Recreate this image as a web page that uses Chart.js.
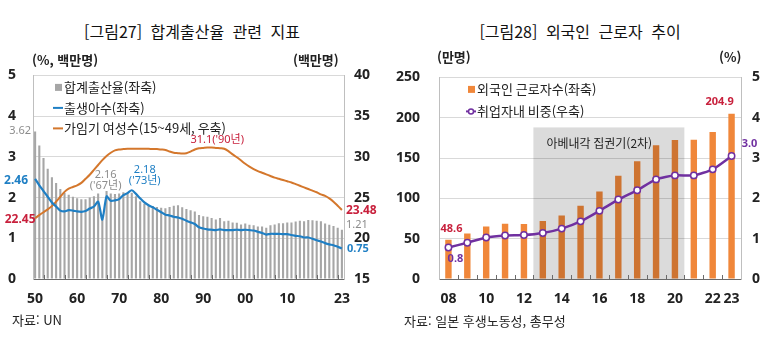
<!DOCTYPE html>
<html lang="ko">
<head>
<meta charset="utf-8">
<script src="https://cdn.jsdelivr.net/npm/chart.js@4.4.1/dist/chart.umd.min.js"></script>
<style>
  body { margin: 0; width: 768px; height: 354px; background: #fff; position: relative; overflow: hidden;
         font-family: "Noto Sans CJK KR", "Noto Sans", sans-serif; color: #222; }
  canvas { position: absolute; top: 50px; }
  .t { position: absolute; white-space: nowrap; }
  .title { top: 21px; font-size: 16px; line-height: 20px; color: #111; text-align: center; word-spacing: 4px; }
  .unit { top: 51px; font-size: 13px; line-height: 18px; font-weight: bold; color: #222; }
  .src { font-size: 13px; line-height: 18px; color: #222; }
</style>
</head>
<body>
<canvas id="fertility" width="384" height="265" style="left:0"></canvas>
<canvas id="workers" width="384" height="265" style="left:384px"></canvas>

<div class="t title" style="left:0;width:384px">[그림27] 합계출산율 관련 지표</div>
<div class="t title" style="left:396px;width:368px">[그림28] 외국인 근로자 추이</div>
<div class="t unit" style="left:32px">(%, 백만명)</div>
<div class="t unit" style="left:293px">(백만명)</div>
<div class="t unit" style="left:437px;top:48px">(만명)</div>
<div class="t unit" style="left:719px;top:48px">(%)</div>
<div class="t src" style="left:12px;top:311px">자료: UN</div>
<div class="t src" style="left:404px;top:312px">자료: 일본 후생노동성, 총무성</div>

<script>
// ---- 그림27 data (1950~2023) ----
const years1 = [
  '1950','1951','1952','1953','1954','1955','1956','1957','1958','1959',
  '1960','1961','1962','1963','1964','1965','1966','1967','1968','1969',
  '1970','1971','1972','1973','1974','1975','1976','1977','1978','1979',
  '1980','1981','1982','1983','1984','1985','1986','1987','1988','1989',
  '1990','1991','1992','1993','1994','1995','1996','1997','1998','1999',
  '2000','2001','2002','2003','2004','2005','2006','2007','2008','2009',
  '2010','2011','2012','2013','2014','2015','2016','2017','2018','2019',
  '2020','2021','2022','2023'
];
const shownYears1 = ['1950','1960','1970','1980','1990','2000','2010','2023'];

// 합계출산율 (%)
const tfr = [
  3.62, 3.28, 2.97, 2.71, 2.50, 2.36, 2.21, 2.11, 2.07, 2.02,
  1.98, 1.96, 1.96, 2.00, 2.03, 2.10, 1.58, 2.16, 2.10, 2.09,
  2.10, 2.13, 2.12, 2.12, 2.03, 1.91, 1.85, 1.80, 1.79, 1.77,
  1.75, 1.74, 1.77, 1.80, 1.81, 1.76, 1.72, 1.69, 1.66, 1.57,
  1.54, 1.53, 1.50, 1.46, 1.50, 1.42, 1.43, 1.39, 1.38, 1.34,
  1.36, 1.33, 1.32, 1.29, 1.29, 1.26, 1.32, 1.34, 1.37, 1.37,
  1.39, 1.39, 1.41, 1.43, 1.42, 1.45, 1.44, 1.43, 1.42, 1.36,
  1.33, 1.30, 1.26, 1.21
];
// 출생아수 (백만명)
const births = [
  2.46, 2.30, 2.16, 2.02, 1.88, 1.78, 1.68, 1.66, 1.69, 1.68,
  1.66, 1.65, 1.67, 1.73, 1.78, 1.90, 1.46, 2.03, 1.92, 1.93,
  1.96, 2.06, 2.11, 2.18, 2.09, 1.98, 1.88, 1.81, 1.76, 1.70,
  1.64, 1.58, 1.56, 1.53, 1.51, 1.48, 1.43, 1.39, 1.35, 1.27,
  1.24, 1.22, 1.21, 1.20, 1.22, 1.20, 1.20, 1.20, 1.21, 1.20,
  1.21, 1.20, 1.19, 1.16, 1.13, 1.09, 1.11, 1.11, 1.11, 1.10,
  1.10, 1.08, 1.06, 1.05, 1.02, 1.02, 0.99, 0.95, 0.92, 0.88,
  0.85, 0.83, 0.79, 0.75
];
// 가임기 여성수 15~49세 (백만명)
const women = [
  22.45, 22.85, 23.20, 23.55, 23.95, 24.50, 25.10, 25.70, 26.10, 26.30,
  26.50, 26.80, 27.30, 27.80, 28.40, 29.00, 29.60, 30.10, 30.50, 30.80,
  30.90, 30.95, 31.00, 31.00, 31.00, 31.00, 31.00, 31.00, 30.95, 30.95,
  30.90, 30.85, 30.65, 30.50, 30.45, 30.40, 30.45, 30.65, 30.90, 31.05,
  31.10, 31.15, 31.15, 31.10, 31.05, 31.00, 30.70, 30.30, 29.95, 29.55,
  29.15, 28.80, 28.50, 28.25, 28.05, 27.85, 27.65, 27.45, 27.30, 27.15,
  27.00, 26.85, 26.65, 26.45, 26.25, 26.05, 25.85, 25.65, 25.40, 25.20,
  24.90, 24.50, 24.00, 23.48
];
const leftTicks1 = [0, 1, 2, 3, 4, 5];
const rightTicks1 = [15, 20, 25, 30, 35, 40];

// ---- 그림28 data (2008~2023) ----
const years2 = ['2008','2009','2010','2011','2012','2013','2014','2015',
                '2016','2017','2018','2019','2020','2021','2022','2023'];
const shownYears2 = ['2008','2010','2012','2014','2016','2018','2020','2022','2023'];
// 외국인 근로자수 (만명)
const foreignWorkers = [48.6, 56.3, 65.0, 68.6, 68.2, 71.8, 78.8, 90.8,
                        108.4, 127.9, 146.0, 165.9, 172.4, 172.7, 182.3, 204.9];
// 취업자내 비중 (%)
const workerShare = [0.78, 0.90, 1.03, 1.08, 1.09, 1.14, 1.25, 1.43,
                     1.69, 1.97, 2.20, 2.47, 2.57, 2.57, 2.72, 3.05];
const leftTicks2 = [0, 50, 100, 150, 200, 250];
const rightTicks2 = [0, 1, 2, 3, 4, 5];
// 아베내각 집권기(2차) shaded span (years between bars) and its height on left axis
const abePeriod = [2012.5, 2020.5];
const abeTop = 188;

const NUM = '"Noto Sans", "Noto Sans CJK KR", sans-serif';
const KR = '"Noto Sans CJK KR", "Noto Sans", sans-serif';

// labels next to chosen points
const pointLabels = {
  id: 'pointLabels',
  afterDatasetsDraw(chart, args, opts) {
    const ctx = chart.ctx;
    (opts.items || []).forEach(it => {
      const el = chart.getDatasetMeta(it.ds).data[it.i];
      ctx.save();
      ctx.font = it.font;
      ctx.fillStyle = it.color;
      ctx.textAlign = it.align || 'center';
      ctx.textBaseline = 'middle';
      it.lines.forEach((s, k) => ctx.fillText(s, el.x + it.dx, el.y + it.dy + k * 11));
      ctx.restore();
    });
  }
};

// legend inside the plot area
const innerLegend = {
  id: 'innerLegend',
  afterDraw(chart, args, opts) {
    const { ctx, chartArea } = chart;
    ctx.save();
    ctx.font = '13px ' + KR;
    ctx.textBaseline = 'middle';
    opts.items.forEach((it, k) => {
      const ds = chart.data.datasets[it.ds];
      const x = chartArea.left + opts.x;
      const y = chartArea.top + opts.y + k * opts.gap;
      if (it.kind === 'box') {
        ctx.fillStyle = ds.backgroundColor;
        ctx.fillRect(x + 2, y - 3.5, 7, 7);
      } else {
        ctx.strokeStyle = ds.borderColor;
        ctx.lineWidth = 2;
        ctx.beginPath(); ctx.moveTo(x, y); ctx.lineTo(x + 10, y); ctx.stroke();
        if (it.kind === 'dotline') {
          ctx.fillStyle = '#fff'; ctx.lineWidth = 1.5;
          ctx.beginPath(); ctx.arc(x + 5, y, 2.5, 0, Math.PI * 2); ctx.fill(); ctx.stroke();
        }
      }
      ctx.fillStyle = '#222';
      ctx.fillText(ds.label, x + 11, y);
    });
    ctx.restore();
  }
};

// small inward tick marks on the bottom axis
const baseTicks = {
  id: 'baseTicks',
  afterDatasetsDraw(chart, args, opts) {
    const { ctx } = chart;
    const xs = chart.scales.x, bottom = chart.chartArea.bottom;
    ctx.save();
    ctx.strokeStyle = '#6b6b6b';
    ctx.lineWidth = 1;
    opts.at.forEach(v => {
      const px = Math.round(xs.getPixelForValue(v)) + 0.5;
      ctx.beginPath(); ctx.moveTo(px, bottom); ctx.lineTo(px, bottom - 4); ctx.stroke();
    });
    ctx.restore();
  }
};

// shaded period drawn over the bars, under the line
const periodShade = {
  id: 'periodShade',
  afterDatasetDraw(chart, args, opts) {
    if (args.index !== opts.after) return;
    const { ctx } = chart;
    const xs = chart.scales.x, ys = chart.scales.y;
    const x0 = xs.getPixelForValue(opts.from - 2008), x1 = xs.getPixelForValue(opts.to - 2008);
    const top = ys.getPixelForValue(opts.top), bottom = ys.getPixelForValue(0);
    ctx.save();
    ctx.fillStyle = 'rgba(0,0,0,0.14)';
    ctx.fillRect(x0, top, x1 - x0, bottom - top);
    ctx.fillStyle = '#222';
    ctx.font = '12px ' + KR;
    ctx.textBaseline = 'middle';
    ctx.fillText(opts.text, x0 + 13, top + 16);
    ctx.restore();
  }
};

const tickFont = { family: NUM, size: 14, weight: 'bold' };

function yAxis(ticks, side, width, pad, withGrid) {
  return {
    position: side,
    min: ticks[0], max: ticks[ticks.length - 1],
    afterFit: s => { s.width = width; },
    ticks: { stepSize: ticks[1] - ticks[0], font: tickFont, color: '#222', padding: pad },
    grid: { display: withGrid, drawOnChartArea: withGrid, drawTicks: false, color: '#d9d9d9' },
    border: { color: '#bfbfbf', width: 1 }
  };
}

function xAxis(labels, shown) {
  return {
    offset: true,
    afterFit: s => { s.height = 36; },
    grid: { display: false, drawTicks: false },
    border: { color: '#6b6b6b', width: 1 },
    ticks: {
      autoSkip: false, maxRotation: 0, font: tickFont, color: '#222', padding: 12,
      callback: (v, i) => shown.includes(labels[i]) ? labels[i].slice(2) : ''
    }
  };
}

Chart.defaults.font.family = NUM;

const red = '#c8203c';
const blue = '#1f7fc4';
const purple = '#7030a0';

new Chart(document.getElementById('fertility'), {
  data: {
    labels: years1,
    datasets: [
      { type: 'bar', label: '합계출산율(좌축)', data: tfr, yAxisID: 'y',
        backgroundColor: '#a6a6a6', barPercentage: 0.5, categoryPercentage: 1, order: 3 },
      { type: 'line', label: '출생아수(좌축)', data: births, yAxisID: 'y',
        borderColor: blue, borderWidth: 2.2, pointRadius: 0, tension: 0.25, order: 1 },
      { type: 'line', label: '가임기 여성수(15~49세, 우축)', data: women, yAxisID: 'y2',
        borderColor: '#d4772c', borderWidth: 2, pointRadius: 0, tension: 0.25, order: 2 }
    ]
  },
  options: {
    responsive: false, animation: false, devicePixelRatio: 1,
    layout: { padding: { top: 18, left: 0, right: 0, bottom: 0 } },
    scales: {
      x: xAxis(years1, shownYears1),
      y: yAxis(leftTicks1, 'left', 33, 17, true),
      y2: yAxis(rightTicks1, 'right', 40, 10, false)
    },
    plugins: {
      legend: { display: false }, tooltip: { enabled: false },
      innerLegend: { x: 20, y: 12, gap: 20.5, items: [
        { ds: 0, kind: 'box' }, { ds: 1, kind: 'line' }, { ds: 2, kind: 'line' } ] },
      baseTicks: { at: years1.map((y, i) => i).filter(i => i % 5 === 2) },
      pointLabels: { items: [
        { ds: 0, i: 0, lines: ['3.62'], dx: -15, dy: -1, color: '#8c8c8c', font: '11px ' + NUM },
        { ds: 1, i: 0, lines: ['2.46'], dx: -19, dy: 2, color: blue, font: 'bold 12px ' + NUM },
        { ds: 2, i: 0, lines: ['22.45'], dx: -15, dy: 1, color: red, font: 'bold 12px ' + NUM },
        { ds: 0, i: 17, lines: ['2.16', "('67년)"], dx: -1, dy: -16, color: '#8c8c8c', font: '11px ' + NUM },
        { ds: 1, i: 23, lines: ['2.18', "('73년)"], dx: 13, dy: -20, color: blue, font: '11px ' + NUM },
        { ds: 2, i: 40, lines: ["31.1('90년)"], dx: 14, dy: -8, color: red, font: '11px ' + NUM },
        { ds: 2, i: 73, lines: ['23.48'], dx: 4, dy: 1, color: red, font: 'bold 12px ' + NUM, align: 'left' },
        { ds: 0, i: 73, lines: ['1.21'], dx: 4, dy: -5, color: '#8c8c8c', font: '11px ' + NUM, align: 'left' },
        { ds: 1, i: 73, lines: ['0.75'], dx: 5, dy: 0, color: blue, font: 'bold 11px ' + NUM, align: 'left' }
      ] }
    }
  },
  plugins: [baseTicks, pointLabels, innerLegend]
});

new Chart(document.getElementById('workers'), {
  data: {
    labels: years2,
    datasets: [
      { type: 'bar', label: '외국인 근로자수(좌축)', data: foreignWorkers, yAxisID: 'y',
        backgroundColor: '#f0873a', barPercentage: 0.34, categoryPercentage: 1, order: 2 },
      { type: 'line', label: '취업자내 비중(우축)', data: workerShare, yAxisID: 'y2',
        borderColor: purple, borderWidth: 2.5, pointRadius: 3.2, pointBorderWidth: 1.5,
        pointBackgroundColor: '#fff', pointBorderColor: purple, tension: 0.2, order: 1 }
    ]
  },
  options: {
    responsive: false, animation: false, devicePixelRatio: 1,
    layout: { padding: { top: 18, left: 0, right: 0, bottom: 0 } },
    scales: {
      x: xAxis(years2, shownYears2),
      y: yAxis(leftTicks2, 'left', 55, 19, true),
      y2: yAxis(rightTicks2, 'right', 27, 11, false)
    },
    plugins: {
      legend: { display: false }, tooltip: { enabled: false },
      periodShade: { after: 0, from: abePeriod[0], to: abePeriod[1], top: abeTop, text: '아베내각 집권기(2차)' },
      innerLegend: { x: 27, y: 12, gap: 22, items: [ { ds: 0, kind: 'box' }, { ds: 1, kind: 'dotline' } ] },
      baseTicks: { at: years2.slice(1).map((y, i) => i + 0.5) },
      pointLabels: { items: [
        { ds: 0, i: 0, lines: ['48.6'], dx: 3, dy: -11, color: red, font: 'bold 11px ' + NUM },
        { ds: 1, i: 0, lines: ['0.8'], dx: 7, dy: 11, color: purple, font: 'bold 11px ' + NUM },
        { ds: 0, i: 15, lines: ['204.9'], dx: -12, dy: -12, color: red, font: 'bold 11px ' + NUM },
        { ds: 1, i: 15, lines: ['3.0'], dx: 18, dy: -12, color: purple, font: 'bold 11px ' + NUM }
      ] }
    }
  },
  plugins: [periodShade, baseTicks, pointLabels, innerLegend]
});
</script>
</body>
</html>
